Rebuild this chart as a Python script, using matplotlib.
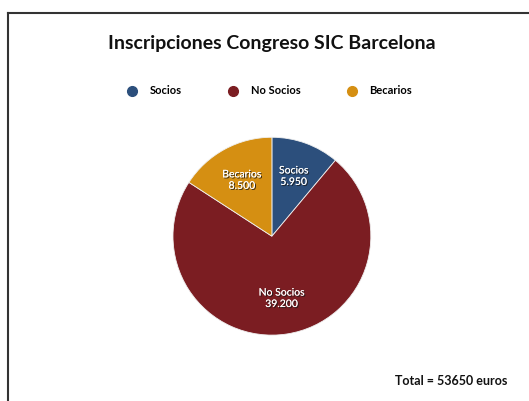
import matplotlib
matplotlib.use("Agg")
import matplotlib.pyplot as plt
import matplotlib.patheffects as pe
from matplotlib.lines import Line2D

plt.rcParams['font.family'] = ['Lato', 'DejaVu Sans']

categorias = ['Socios', 'No Socios', 'Becarios']
valores = [5950, 39200, 8500]
colores = ['#2c4f7c', '#7b1d22', '#d58f12']
titulo = 'Inscripciones Congreso SIC Barcelona'

total = sum(valores)

def miles(v):
    return '{:,}'.format(v).replace(',', '.')

etiquetas = [c + '\n' + miles(v) for c, v in zip(categorias, valores)]

fig = plt.figure(figsize=(5.29, 4.01), dpi=100)
fig.patch.set_facecolor('white')

# marco (solo izquierda y arriba)
fig.add_artist(Line2D([8/529, 8/529], [0, 1 - 13/401], color='#333333', lw=1.5))
fig.add_artist(Line2D([8/529, 1], [1 - 13/401, 1 - 13/401], color='#333333', lw=1.5))

fig.text(0.514, 1 - 44/401, titulo, ha='center', va='center', fontsize=14,
         fontweight='bold', color='#111111')

ax = fig.add_axes([0.327, 0.164, 0.374, 0.494])
wedges, texts = ax.pie(valores, labels=etiquetas, colors=colores, startangle=90,
                       counterclock=False, labeldistance=0.64,
                       wedgeprops={'edgecolor': '#f0f0f0', 'linewidth': 0.6},
                       textprops={'color': 'white', 'fontsize': 7.5,
                                  'ha': 'center', 'va': 'center',
                                  'linespacing': 1.35})
for t in texts:
    t.set_horizontalalignment('center')
    t.set_path_effects([pe.withSimplePatchShadow(offset=(0.8, -0.8),
                                                 shadow_rgbFace='#1a1a1a', alpha=0.9),
                        pe.Normal()])
ax.set_xlim(-1, 1)
ax.set_ylim(-1, 1)
ax.set_aspect('equal')

handles = [Line2D([], [], marker='o', linestyle='', markersize=7,
                  markerfacecolor=c, markeredgecolor=c) for c in colores]
fig.legend(handles, categorias, loc='center', bbox_to_anchor=(0.504, 1 - 91/401),
           ncol=3, frameon=False, columnspacing=3.6, handletextpad=0.6,
           prop={'weight': 'bold', 'size': 8})

fig.text(0.96, 1 - 381/401, 'Total = %d euros' % total, ha='right', va='center',
         fontsize=9, fontweight='bold', color='#111111')

fig.savefig('out.png', dpi=100)
